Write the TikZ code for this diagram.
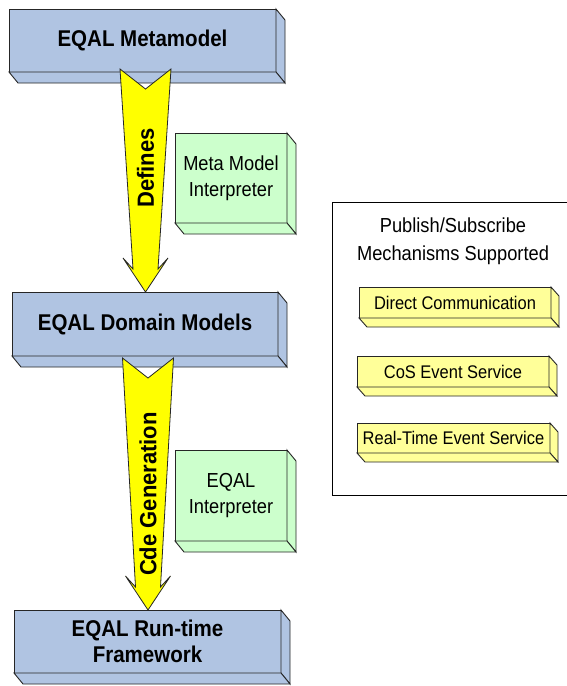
\documentclass[tikz,border=0pt]{standalone}
\usepackage{fontspec}
\setmainfont{Liberation Sans}
% slightly condensed face for all labels
\newfontfamily\condsans[FakeStretch=0.9]{Liberation Sans}
\newfontfamily\labelsans[FakeStretch=0.94]{Liberation Sans}
\usetikzlibrary{calc}

\definecolor{boxblue}{RGB}{176,196,226}
\definecolor{boxgreen}{RGB}{204,255,204}
\definecolor{boxyellow}{RGB}{255,255,153}
\definecolor{arrowyellow}{RGB}{255,255,0}

\tikzset{
  face/.style={draw=black!85, line width=0.9pt, line join=miter},
  blockbox/.style={face, fill=boxblue, rectangle, inner sep=0pt, outer sep=0pt,
    align=center, font=\condsans\fontsize{22.8}{26}\selectfont\bfseries},
  toolbox/.style={face, fill=boxgreen, rectangle, inner sep=0pt, outer sep=0pt,
    align=center, font=\condsans\fontsize{20.3}{26.5}\selectfont},
  mechbox/.style={face, fill=boxyellow, rectangle, inner sep=0pt, outer sep=0pt,
    align=center, font=\condsans\fontsize{18.3}{20}\selectfont},
  bigarrow/.style={draw=black!85, line width=0.8pt, fill=arrowyellow, line join=miter},
  arrowlabel/.style={rotate=90, inner sep=0pt, font=\labelsans\fontsize{23.4}{26}\selectfont\bfseries},
  paneltitle/.style={align=center, inner sep=0pt, font=\condsans\fontsize{20.3}{28}\selectfont}
}

% right and bottom faces of a raised block: node, dx, dy, fill colour
\newcommand\solidsides[4]{%
  \draw[face, fill=#4] (#1.north east) -- ++(#2,#3) -- ($(#1.south east)+(#2,#3)$)
    -- (#1.south east) -- cycle;
  \draw[face, fill=#4] (#1.south west) -- ++(#2,#3) -- ($(#1.south east)+(#2,#3)$)
    -- (#1.south east) -- cycle;}

% notched, tapering block arrow from coordinate #1 (tail) to coordinate #2 (tip)
\newcommand\blockarrow[2]{%
  \draw[bigarrow] ($(#1)+(-25.5,0)$) -- ($(#1)+(0,20)$) -- ($(#1)+(25.5,0)$)
    -- ($(#2)+(12.5,-23)$) -- ($(#2)+(22.5,-34)$) -- (#2)
    -- ($(#2)+(-22.5,-34)$) -- ($(#2)+(-12.5,-23)$) -- cycle;}

\begin{document}
\begin{tikzpicture}[x=1pt, y=-1pt]
  \clip (0,0) rectangle (567,686);
  \fill[white] (0,0) rectangle (567,686);

  % main chain of blocks
  \node[blockbox, minimum width=267pt, minimum height=63pt] (meta) at (142.5,40.5) {EQAL Metamodel};
  \solidsides{meta}{9}{11}{boxblue}
  \node[blockbox, minimum width=266pt, minimum height=64pt] (domain) at (145,324) {EQAL Domain Models};
  \solidsides{domain}{9}{11}{boxblue}
  \node[blockbox, minimum width=267pt, minimum height=63pt] (runtime) at (147.5,641.5) {EQAL Run-time\\Framework};
  \solidsides{runtime}{9}{11}{boxblue}

  % interpreters
  \node[toolbox, minimum width=112pt, minimum height=90pt] (mmi) at (231,178) {Meta Model\\Interpreter};
  \solidsides{mmi}{9}{11}{boxgreen}
  \node[toolbox, minimum width=112pt, minimum height=91pt] (eqi) at (231,495.5) {EQAL\\Interpreter};
  \solidsides{eqi}{9}{11}{boxgreen}

  % transformation arrows
  \coordinate (t1) at ($(meta.south)+(3,-3)$);
  \coordinate (p1) at (t1 |- domain.north);
  \blockarrow{t1}{p1}
  \node[arrowlabel] (deflabel) at ($(t1)!0.444!(p1)$) {Defines};

  \coordinate (t2) at ($(domain.south)+(3,2)$);
  \coordinate (p2) at (t2 |- runtime.north);
  \blockarrow{t2}{p2}
  \node[arrowlabel] (genlabel) at ($(t2)!0.54!(p2)$) {Cde Generation};

  % publish/subscribe panel
  \node[draw=black, line width=0.8pt, rectangle, inner sep=0pt, outer sep=0pt,
        minimum width=248pt, minimum height=293pt] (panel) at (456,348.5) {};
  \node[paneltitle] (ptitle) at (453,241) {Publish/Subscribe\\Mechanisms Supported};

  \node[mechbox, minimum width=192pt, minimum height=31pt] (direct) at (455,302.5) {Direct Communication};
  \solidsides{direct}{8}{9}{boxyellow}
  \node[mechbox, minimum width=192pt, minimum height=31pt] (cos) at (453,371.5) {CoS Event Service};
  \solidsides{cos}{8}{9}{boxyellow}
  \node[mechbox, minimum width=193pt, minimum height=30pt] (rtes) at (453.5,438) {Real-Time Event Service};
  \solidsides{rtes}{8}{9}{boxyellow}
\end{tikzpicture}
\end{document}
